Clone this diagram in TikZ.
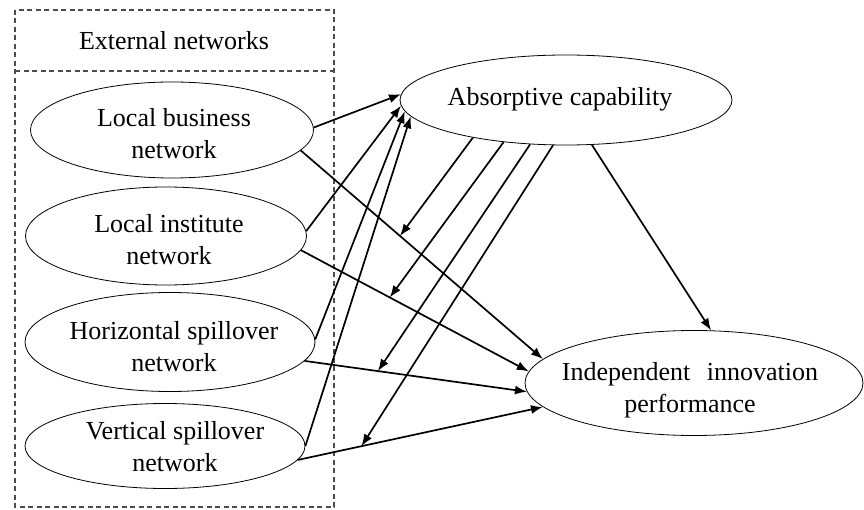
\documentclass[tikz,border=0pt]{standalone}
\usepackage{fontspec}
\setmainfont{Liberation Serif}
\usetikzlibrary{shapes.geometric,arrows.meta}
\begin{document}
\begin{tikzpicture}[x=1pt,y=-1pt,
  oval/.style={ellipse,draw,line width=0.8pt,inner sep=0pt},
  txt/.style={align=center,inner sep=0pt,font=\fontsize{26}{32}\selectfont},
  conn/.style={line width=1.7pt,-{Latex[length=12pt,width=9pt]}},
  frame/.style={draw=black!70,line width=1.2pt,dash pattern=on 5pt off 3.5pt}]
\useasboundingbox (0,0) rectangle (864,510);
\draw[frame] (15,10) rectangle (334,507);
\draw[frame] (15,71) -- (334,71);
\node[txt] (ext) at (174,41) {External networks};

\node[oval,minimum width=283pt,minimum height=96pt] (lb) at (172,130) {};
\node[oval,minimum width=281pt,minimum height=98pt] (li) at (166,236) {};
\node[oval,minimum width=290pt,minimum height=99pt] (hs) at (170,342) {};
\node[oval,minimum width=280pt,minimum height=85pt] (vs) at (165,446) {};
\node[oval,minimum width=332pt,minimum height=90pt] (ac) at (566,100) {};
\node[oval,minimum width=338pt,minimum height=105pt] (ip) at (694,383) {};

\node[txt] (lbt) at (174,134) {Local business\\network};
\node[txt] (lit) at (169,240) {Local institute\\network};
\node[txt] (hst) at (174,347) {Horizontal spillover\\network};
\node[txt] (vst) at (175,447) {Vertical spillover\\network};
\node[txt] (act) at (560,99) {Absorptive capability};
\node[txt] (ipt) at (690,390) {Independent\hspace{10pt} innovation\\performance};

\draw[conn] (lb.1) -- (ac.178);
\draw[conn] (li.2) -- (ac.182);
\draw[conn] (hs.1.5) -- (ac.184);
\draw[conn] (vs.0) -- (ac.186);

\draw[conn] (lb.-9) -- coordinate[pos=0.41] (m1) (ip.171);
\draw[conn] (li.-6) -- coordinate[pos=0.39] (m2) (ip.176);
\draw[conn] (hs.-8) -- coordinate[pos=0.33] (m3) (ip.183);
\draw[conn] (vs.-6) -- coordinate[pos=0.26] (m4) (ip.189);

\draw[conn] (ac.202) -- (m1);
\draw[conn] (ac.214) -- (m2);
\draw[conn] (ac.231) -- (m3);
\draw[conn] (ac.254) -- (m4);

\draw[conn] (ac.-60) -- (ip.72);
\end{tikzpicture}
\end{document}
